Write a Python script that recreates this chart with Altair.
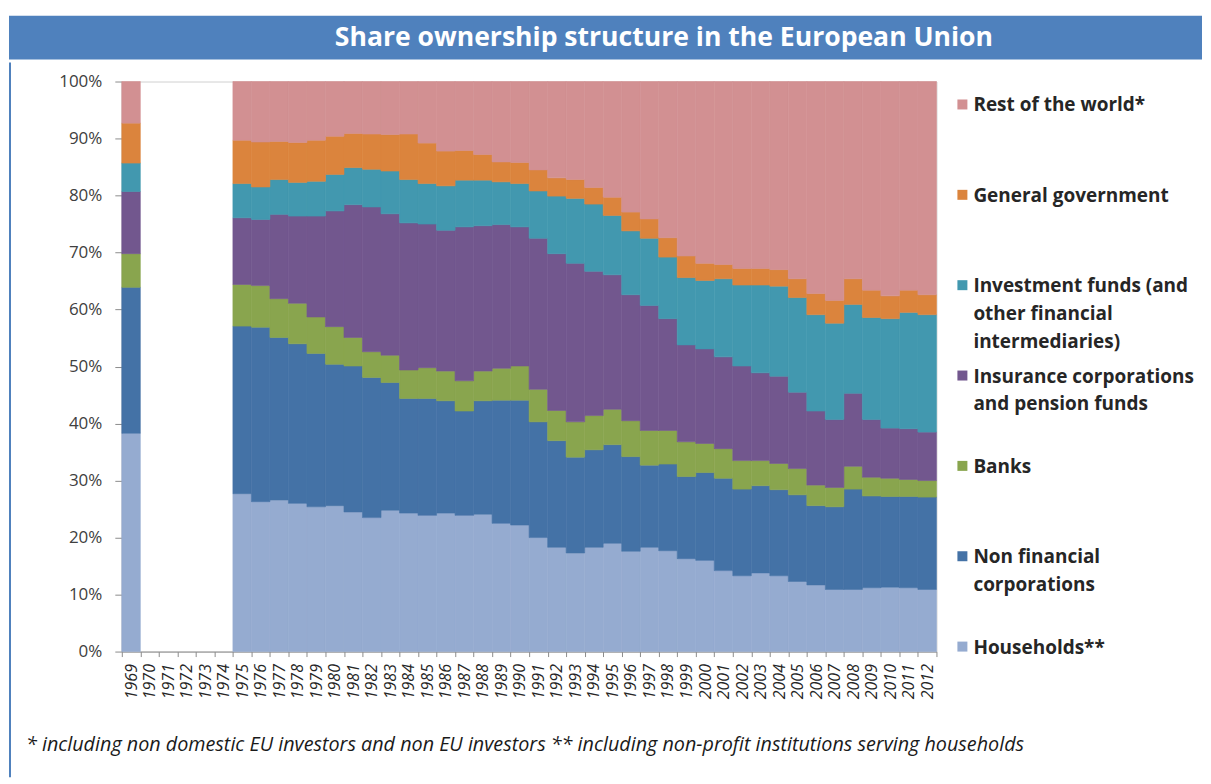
import altair as alt
import pandas as pd

# ---------------- data ----------------
all_years = [str(y) for y in range(1969, 2013)]
data_years = ["1969"] + [str(y) for y in range(1975, 2013)]

series_names = [
    "Households**",
    "Non financial corporations",
    "Banks",
    "Insurance corporations and pension funds",
    "Investment funds (and other financial intermediaries)",
    "General government",
    "Rest of the world*",
]
legend_lines = [
    "Households**",
    "Non financial\ncorporations",
    "Banks",
    "Insurance corporations\nand pension funds",
    "Investment funds (and\nother financial\nintermediaries)",
    "General government",
    "Rest of the world*",
]
series_colors = ["#95ABD0", "#4472A6", "#89A54E", "#72578E", "#4298AF", "#DB843D", "#D29092"]

households = [38.3, 27.7, 26.3, 26.6, 26.0, 25.4, 25.6, 24.5, 23.5, 24.8, 24.3, 23.9, 24.3, 23.9,
              24.1, 22.5, 22.2, 20.0, 18.3, 17.3, 18.3, 19.0, 17.6, 18.3, 17.7, 16.3, 16.0, 14.2,
              13.3, 13.8, 13.3, 12.3, 11.7, 10.9, 10.9, 11.2, 11.3, 11.2, 10.9]
non_financial = [25.6, 29.4, 30.6, 28.5, 28.0, 26.9, 24.8, 25.6, 24.6, 22.4, 20.1, 20.5, 19.7, 18.3,
                 19.9, 21.6, 21.9, 20.3, 18.7, 16.8, 17.1, 17.3, 16.6, 14.4, 15.2, 14.4, 15.4, 16.2,
                 15.2, 15.3, 15.1, 15.2, 13.9, 14.5, 17.6, 16.1, 15.9, 16.0, 16.2]
banks = [5.9, 7.3, 7.3, 6.8, 7.1, 6.4, 6.6, 5.0, 4.5, 4.8, 5.0, 5.4, 5.2, 5.3,
         5.2, 5.6, 6.0, 5.7, 5.3, 6.2, 6.0, 6.2, 6.3, 6.1, 5.9, 6.1, 5.1, 5.2,
         5.0, 4.4, 4.6, 4.6, 3.6, 3.4, 4.0, 3.3, 3.2, 3.0, 2.9]
insurance = [10.9, 11.7, 11.6, 14.8, 15.3, 17.7, 20.3, 23.3, 25.4, 24.8, 25.8, 25.2, 24.7, 27.0,
             25.5, 25.2, 24.4, 26.5, 27.5, 27.8, 25.3, 23.6, 22.1, 21.9, 19.6, 17.0, 16.6, 16.1,
             16.6, 15.4, 15.3, 13.4, 13.0, 11.9, 12.8, 10.1, 8.8, 8.9, 8.5]
investment_funds = [5.0, 6.0, 5.7, 6.1, 5.9, 6.1, 6.4, 6.5, 6.6, 7.5, 7.6, 7.1, 7.8, 8.2,
                    8.0, 7.5, 7.6, 8.3, 10.1, 11.4, 11.8, 10.4, 11.2, 11.8, 10.8, 11.8, 12.0, 13.7,
                    14.2, 15.4, 15.8, 16.6, 16.9, 16.9, 15.6, 17.9, 19.2, 20.4, 20.6]
government = [7.0, 7.6, 7.9, 6.7, 7.0, 7.2, 6.7, 6.0, 6.2, 6.4, 8.0, 7.1, 6.1, 5.2,
              4.5, 3.5, 3.7, 3.7, 3.2, 3.3, 2.9, 3.2, 3.3, 3.4, 3.4, 3.8, 3.0, 2.5,
              2.9, 2.9, 2.9, 3.3, 3.7, 4.0, 4.5, 4.8, 4.0, 3.9, 3.5]
rest_of_world = [7.3, 10.3, 10.6, 10.5, 10.7, 10.3, 9.6, 9.1, 9.2, 9.3, 9.2, 10.8, 12.2, 12.1,
                 12.8, 14.1, 14.2, 15.5, 16.9, 17.2, 18.6, 20.3, 22.9, 24.1, 27.4, 30.6, 31.9, 32.1,
                 32.8, 32.8, 33.0, 34.6, 37.2, 38.4, 34.6, 36.6, 37.6, 36.6, 37.4]

y_ticks = [0, 10, 20, 30, 40, 50, 60, 70, 80, 90, 100]
title_text = "Share ownership structure in the European Union"
footnote_text = ("* including  non domestic  EU investors and non EU investors "
                 "** including  non-profit institutions serving households")

series_values = [households, non_financial, banks, insurance, investment_funds, government, rest_of_world]

rows = []
for i, name in enumerate(series_names):
    for yr, v in zip(data_years, series_values[i]):
        rows.append({"year": yr, "series": name, "order": i, "share": v})
df = pd.DataFrame(rows)

color_scale = alt.Scale(domain=series_names, range=series_colors)
FONT = "Open Sans"
LEFT = 113   # from chart's left edge to the plot area
GAP = 19     # frame line start above plot top
FRAME_BLUE = "#4F81BD"

# ---------------- main plot ----------------
bars = alt.Chart(df).mark_bar(strokeWidth=0.6).encode(
    x=alt.X("year:O",
            scale=alt.Scale(domain=all_years, paddingInner=0, paddingOuter=0),
            axis=alt.Axis(title=None, labelAngle=270, tickBand="extent", tickSize=5,
                          labelPadding=7, labelFontSize=16, labelFontStyle="italic",
                          labelColor="#262626")),
    y=alt.Y("share:Q", stack="zero",
            scale=alt.Scale(domain=[0, 100], nice=False, clamp=True),
            axis=alt.Axis(values=y_ticks, labelExpr="datum.value + '%'", tickSize=7,
                          labelPadding=13, labelFontSize=17, labelColor="#404040", title=None)),
    color=alt.Color("series:N", scale=color_scale, legend=None),
    stroke=alt.Stroke("series:N", scale=color_scale, legend=None),
    order=alt.Order("order:Q", sort="ascending"),
)

note_df = pd.DataFrame({"note": [footnote_text]})
footnote = alt.Chart(note_df).mark_text(
    align="left", baseline="middle", font=FONT, fontSize=19.8, fontStyle="italic",
    color="#1a1a1a").encode(x=alt.value(29 - 121 - 4), y=alt.value(665), text="note:N")
frame_line = alt.Chart(note_df).mark_rule(color=FRAME_BLUE, strokeWidth=2).encode(
    x=alt.value(-LEFT + 1), y=alt.value(-GAP), y2=alt.value(697))

main = alt.layer(bars, footnote, frame_line).properties(
    width=816, height=571, view=alt.ViewBackground(stroke="#D0D0D0"))

# ---------------- legend panel ----------------
leg_df = pd.DataFrame({"series": series_names, "label": legend_lines})
leg_y = alt.Y("series:N", scale=alt.Scale(type="point", domain=series_names[::-1], padding=0.254),
              axis=None)
leg_squares = alt.Chart(leg_df).mark_square(size=100, opacity=1).encode(
    x=alt.value(5), y=leg_y,
    color=alt.Color("series:N", scale=color_scale, legend=None))
leg_text = alt.Chart(leg_df).mark_text(
    align="left", baseline="top", dy=-8, lineBreak="\n", font=FONT, fontSize=19,
    fontWeight="bold", lineHeight=28, color="#262626").encode(
    x=alt.value(16), y=leg_y, text="label:N")
legend_panel = alt.layer(leg_squares, leg_text).properties(
    width=230, height=589, view=alt.ViewBackground(stroke="transparent"))

middle = alt.hconcat(main, legend_panel, spacing=21, bounds="flush")

# ---------------- banner ----------------
banner_df = pd.DataFrame({"title": [title_text]})
banner_rect = alt.Chart(banner_df).mark_rect(color=FRAME_BLUE).encode(
    x=alt.value(-LEFT), x2=alt.value(1195 - LEFT), y=alt.value(0), y2=alt.value(44))
banner_txt = alt.Chart(banner_df).mark_text(
    color="white", font=FONT, fontSize=26.6, fontWeight="bold", baseline="middle").encode(
    x=alt.value(656 - LEFT), y=alt.value(22), text="title:N")
banner = alt.layer(banner_rect, banner_txt).properties(
    width=1195 - LEFT, height=44, view=alt.ViewBackground(stroke="transparent"))

chart = alt.concat(banner, middle, columns=1, spacing=0).properties(
    padding={"top": 6, "left": 0, "right": 0, "bottom": 2},
).configure(font=FONT).configure_axis(
    labelFont=FONT, domainColor="#8C8C8C", tickColor="#8C8C8C", grid=False
)

chart.save("out.html", embed_options={"renderer": "svg", "actions": False})
